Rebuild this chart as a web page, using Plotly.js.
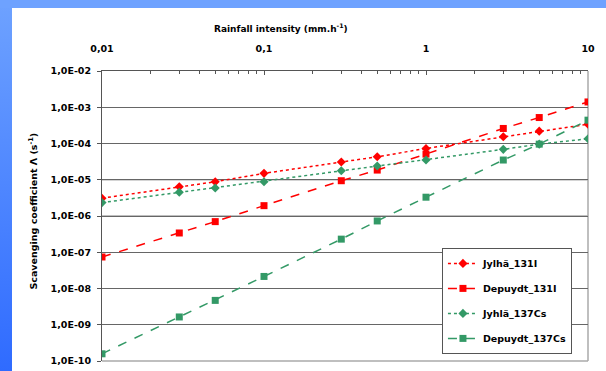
<!DOCTYPE html>
<html>
<head>
<meta charset="utf-8">
<script src="https://cdn.plot.ly/plotly-3.0.1.min.js"></script>
<style>
  html, body { margin: 0; padding: 0; background: #ffffff; width: 606px; height: 371px; overflow: hidden; }
  #leftbar { position: absolute; left: 0; top: 0; width: 12px; height: 371px; background: linear-gradient(to bottom, #6ea2ff, #2f6bff); }
  #topbar { position: absolute; left: 0; top: 0; width: 606px; height: 8px; background: #6ea2ff; }
  #chart { position: absolute; left: 12px; top: 8px; width: 594px; height: 363px; }
</style>
</head>
<body>
<div id="leftbar"></div>
<div id="topbar"></div>
<div id="chart"></div>
<script>
// Rainfall intensity (mm/h)
const rainfall = [0.01, 0.03, 0.05, 0.1, 0.3, 0.5, 1, 3, 5, 10];

// Scavenging coefficients (s^-1)
const jylha131I    = [3.1e-6, 6.4e-6, 8.8e-6, 1.5e-5, 3.1e-5, 4.3e-5, 7.3e-5, 1.53e-4, 2.19e-4, 3.4e-4];
const depuydt131I  = [7.4e-8, 3.4e-7, 7.0e-7, 1.93e-6, 9.4e-6, 1.85e-5, 5.1e-5, 2.6e-4, 5.2e-4, 1.4e-3];
const jyhla137Cs   = [2.34e-6, 4.5e-6, 5.9e-6, 8.8e-6, 1.77e-5, 2.4e-5, 3.5e-5, 6.9e-5, 9.6e-5, 1.35e-4];
const depuydt137Cs = [1.58e-10, 1.64e-9, 4.7e-9, 2.15e-8, 2.3e-7, 7.3e-7, 3.3e-6, 3.5e-5, 9.6e-5, 4.4e-4];

const seriesNames = ["Jylhä_131I", "Depuydt_131I", "Jyhlä_137Cs", "Depuydt_137Cs"];

// Tick labels
const xTickVals = [0.01, 0.1, 1, 10];
const xTickText = ["0,01", "0,1", "1", "10"];
const xMinorMultiples = [2, 3, 4, 5, 6, 7, 8, 9];
const yTickVals = [1e-10, 1e-9, 1e-8, 1e-7, 1e-6, 1e-5, 1e-4, 1e-3, 1e-2];
const yTickText = ["1,0E-10", "1,0E-09", "1,0E-08", "1,0E-07", "1,0E-06", "1,0E-05", "1,0E-04", "1,0E-03", "1,0E-02"];

const xMinorVals = [];
xTickVals.slice(0, -1).forEach(d => xMinorMultiples.forEach(m => xMinorVals.push(+(d * m).toPrecision(3))));

const RED = "#ff0000";
const GREEN = "#339966";
const FONT = "DejaVu Sans, Verdana, sans-serif";

function trace(y, name, color, dash, symbol, group) {
  return {
    x: rainfall, y: y, name: name, type: "scatter", mode: "lines+markers",
    legendgroup: group,
    line: { color: color, dash: dash, width: 1.5 },
    marker: { color: color, symbol: symbol, size: 7 }
  };
}

const data = [
  trace(jylha131I, seriesNames[0], RED, "dot", "diamond", "a"),
  trace(depuydt131I, seriesNames[1], RED, "dash", "square", "b"),
  trace(jyhla137Cs, seriesNames[2], GREEN, "dot", "diamond", "c"),
  trace(depuydt137Cs, seriesNames[3], GREEN, "dash", "square", "d")
];

const layout = {
  width: 594, height: 363,
  margin: { l: 90.3, r: 18, t: 62.7, b: 9.5 },
  paper_bgcolor: "#ffffff",
  plot_bgcolor: "#ffffff",
  font: { family: FONT, size: 9.5, color: "#000000" },
  showlegend: true,
  xaxis: {
    type: "log", side: "top", range: [-2, 1],
    tickvals: xTickVals, ticktext: xTickText,
    tickfont: { family: FONT, size: 9.5, weight: "bold" },
    ticks: "inside", ticklen: 4, tickcolor: "#555555",
    minor: { tickmode: "array", tickvals: xMinorVals, ticks: "inside", ticklen: 3, tickcolor: "#555555", showgrid: false },
    showline: true, linecolor: "#555555", linewidth: 1,
    showgrid: false, zeroline: false,
    ticklabelstandoff: 14
  },
  yaxis: {
    type: "log", range: [-10, -2],
    tickvals: yTickVals, ticktext: yTickText,
    tickfont: { family: FONT, size: 9.5, weight: "bold" },
    ticks: "outside", ticklen: 4, tickcolor: "#555555",
    showline: true, linecolor: "#555555", linewidth: 1,
    showgrid: true, gridcolor: "#666666", gridwidth: 1,
    zeroline: false,
    ticklabelstandoff: 4
  },
  legend: {
    x: 0.6995, y: 0.39, xanchor: "left", yanchor: "top",
    bgcolor: "#ffffff", bordercolor: "#555555", borderwidth: 1,
    font: { family: FONT, size: 9.5, weight: "bold" },
    traceorder: "grouped", tracegroupgap: 6,
    itemwidth: 30
  },
  annotations: [
    { xref: "paper", yref: "paper", x: 0.368, y: 1.1468, xanchor: "center", yanchor: "middle",
      text: "Rainfall intensity (mm.h<sup>-1</sup>)", showarrow: false,
      font: { family: FONT, size: 9, weight: "bold" } },
    { xref: "paper", yref: "paper", x: -0.1427, y: 0.5175, xanchor: "center", yanchor: "middle",
      text: "Scavenging coefficient Λ (s<sup>-1</sup>)", textangle: -90, showarrow: false,
      font: { family: FONT, size: 9.5, weight: "bold" } }
  ],
  shapes: [
    { type: "line", xref: "x domain", yref: "y domain", x0: 1, x1: 1, y0: 0, y1: 1, line: { color: "#aaaaaa", width: 1.5 }, layer: "below" },
    { type: "line", xref: "x domain", yref: "y domain", x0: 0, x1: 1, y0: 0, y1: 0, line: { color: "#aaaaaa", width: 1.5 }, layer: "below" },
    { type: "line", xref: "x domain", yref: "y domain", x0: 0, x1: 1, y0: 0.625, y1: 0.625, line: { color: "#aaaaaa", width: 1.5 }, layer: "below" },
    { type: "line", xref: "x domain", yref: "y domain", x0: 0, x1: 1, y0: 0.5, y1: 0.5, line: { color: "#aaaaaa", width: 1.5 }, layer: "below" }
  ]
};

Plotly.newPlot("chart", data, layout, { displayModeBar: false, staticPlot: true });
</script>
</body>
</html>
